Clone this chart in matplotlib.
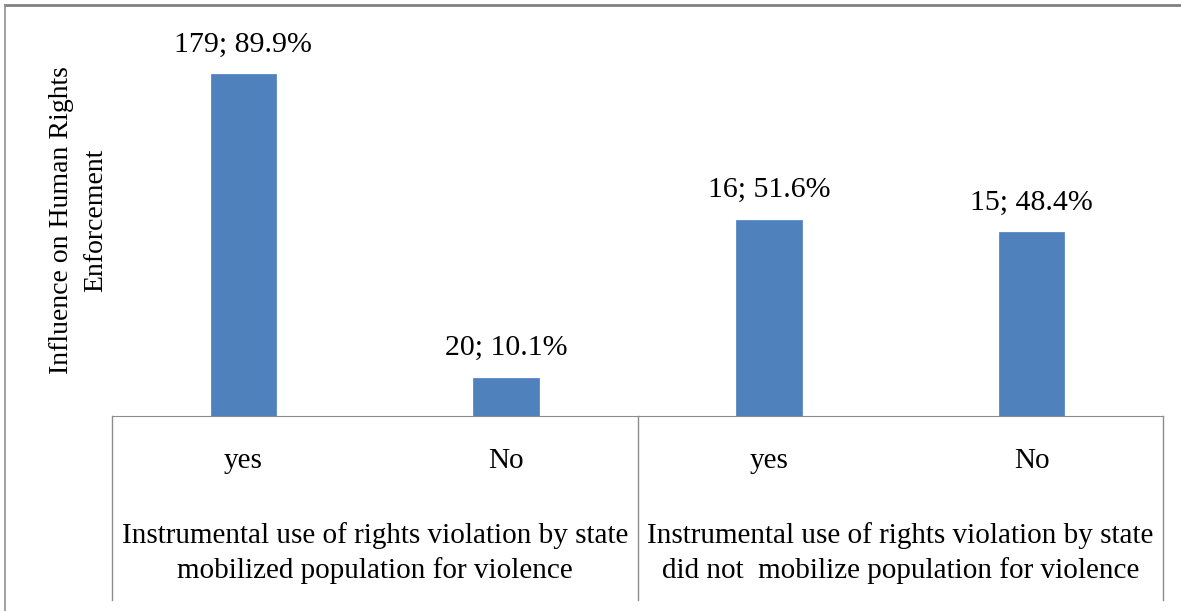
import matplotlib
matplotlib.use('Agg')
import matplotlib.pyplot as plt
from matplotlib.lines import Line2D
from matplotlib import transforms

plt.rcParams['font.family'] = ['Liberation Serif', 'DejaVu Serif']

# data
answers = ['yes', 'No', 'yes', 'No']
counts = [179, 20, 16, 15]
percents = [89.9, 10.1, 51.6, 48.4]
groups = ['Instrumental use of rights violation by state\nmobilized population for violence',
          'Instrumental use of rights violation by state\ndid not  mobilize population for violence']

W, H = 1181, 611
fig = plt.figure(figsize=(W / 100, H / 100), dpi=100)
ax = fig.add_axes([112 / W, 1 - 416 / H, (1163 - 112) / W, 380 / H])

x = range(len(answers))
bars = ax.bar(x, percents, width=0.25, color='#4F81BD', edgecolor='#5a8ac6', linewidth=0.6)
ax.set_xlim(-0.5, len(answers) - 0.5)
ax.set_ylim(0, 100)

# value labels
for i, (c, p) in enumerate(zip(counts, percents)):
    ax.annotate(f'{c}; {p}%', (i, p), xytext=(0, 12), textcoords='offset points',
                ha='center', va='bottom', fontsize=21.5)

for s in ['top', 'right', 'left']:
    ax.spines[s].set_visible(False)
ax.spines['bottom'].set_color('#8c8c8c')
ax.set_yticks([])
ax.set_xticks(list(x))
ax.set_xticklabels(answers, fontsize=21)
ax.tick_params(axis='x', length=0, pad=23)

# group labels and separators below the axis
tr = transforms.blended_transform_factory(ax.transData, ax.transAxes)
for g, lab in enumerate(groups):
    ax.text(2 * g + 0.5, -0.36, lab, transform=tr, ha='center', va='center',
            fontsize=21, linespacing=1.4)
for xv in [-0.5, 1.5, 3.5]:
    ax.add_line(Line2D([xv, xv], [0, -0.484], transform=tr, color='#8c8c8c',
                       linewidth=1, clip_on=False))

ax.set_ylabel('Influence on Human Rights\nEnforcement', fontsize=20, linespacing=1.45)
ax.yaxis.set_label_coords(-0.004, 0.515)

# outer frame (top and left only)
fig.add_artist(Line2D([5 / W, 1], [1 - 5 / H, 1 - 5 / H], transform=fig.transFigure,
                      color='#808080', linewidth=2))
fig.add_artist(Line2D([5 / W, 5 / W], [0, 1 - 5 / H], transform=fig.transFigure,
                      color='#909090', linewidth=1.2))

fig.savefig('out.png', dpi=100)
